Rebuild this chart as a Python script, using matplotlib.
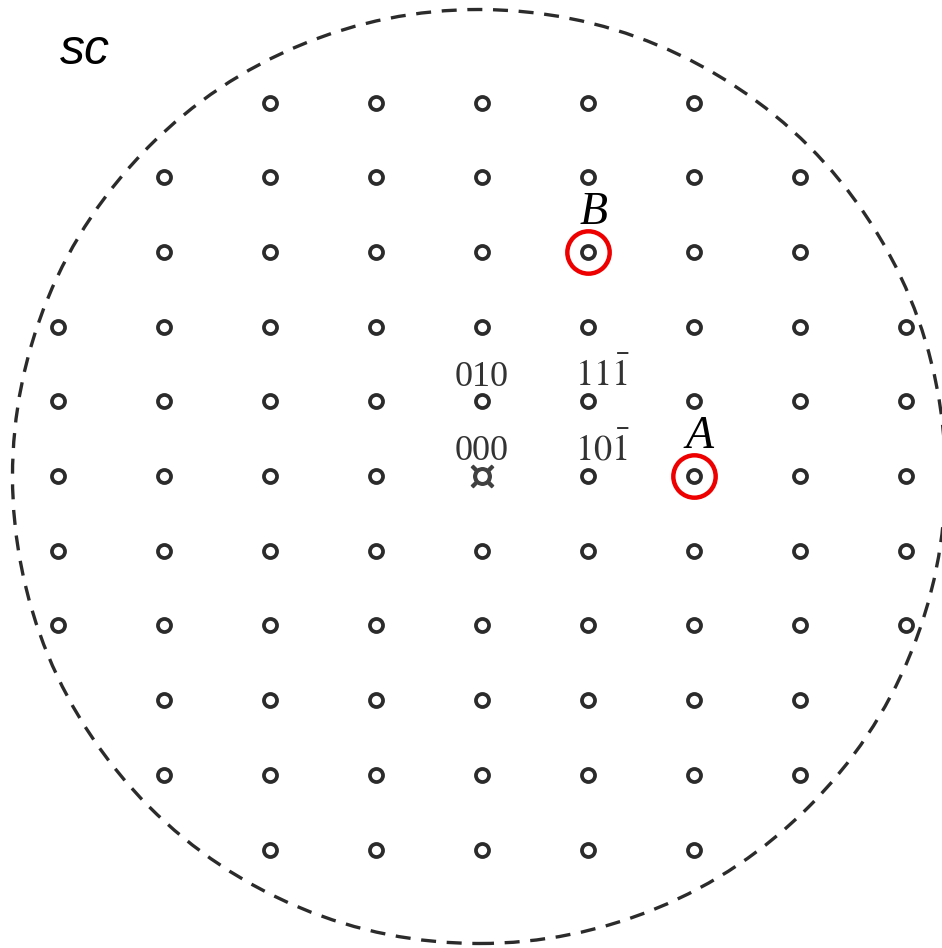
import matplotlib.pyplot as plt
from matplotlib.patches import Ellipse

plt.rcParams['mathtext.fontset'] = 'stix'

# lattice rows (k index) and how far each row reaches in h
rows = [5, 4, 3, 2, 1, 0, -1, -2, -3, -4, -5]
row_reach = [2, 3, 3, 4, 4, 4, 4, 4, 3, 3, 2]

# indexed spots: label text and lattice position
spot_labels = ['010', '000', r'$\mathrm{11\bar{1}}$', r'$\mathrm{10\bar{1}}$']
spot_h = [0, 0, 1, 1]
spot_k = [1, 0, 1, 0]

# highlighted spots
mark_names = ['A', 'B']
mark_h = [2, 1]
mark_k = [0, 3]

# pixel scale of one lattice step
dx = 106.0
dy = 74.7
cx, cy = 482.0, 476.0
W, H = 942, 948

fig = plt.figure(figsize=(W / 100, H / 100), dpi=100)
ax = fig.add_axes([0, 0, 1, 1])
ax.set_xlim(-cx / dx, (W - cx) / dx)
ax.set_ylim(-(H - cy) / dy, cy / dy)
ax.axis('off')

xs, ys = [], []
for k, r in zip(rows, row_reach):
    for h in range(-r, r + 1):
        if h == 0 and k == 0:
            continue
        xs.append(h)
        ys.append(k)
ax.plot(xs, ys, 'o', ms=9.4, mfc='none', mec='#2b2b2b', mew=2.7, ls='none')

# origin spot
ax.plot([0], [0], marker=r'$¤$', ms=16, color='#404040', ls='none')

# limiting circle
ax.add_patch(Ellipse((-3 / dx, -0.5 / dy), 2 * 466.5 / dx, 2 * 467 / dy,
                     fill=False, ec='#2b2b2b', lw=2.4, ls=(0, (4.5, 3.2)),
                     clip_on=False))

# labels of indexed spots
for t, h, k in zip(spot_labels, spot_h, spot_k):
    ax.text(h + 0.135 * (h != 0), k + 0.21, t, ha='center', va='baseline',
            fontsize=26, family='Liberation Serif', color='#333333')

# highlighted spots
for t, h, k in zip(mark_names, mark_h, mark_k):
    ax.plot([h], [k], 'o', ms=30.5, mfc='none', mec='#ee0000', mew=3.2)
    ax.text(h + 0.05, k + 0.38, t, ha='center', va='baseline', fontsize=33,
            family='Liberation Serif', style='italic', color='black')

ax.text(60 / dx - cx / dx, cy / dy - 64 / dy, 'sc', fontsize=36,
        family='Liberation Sans', style='italic', ha='left', va='baseline')

fig.savefig('out.png', dpi=100)
